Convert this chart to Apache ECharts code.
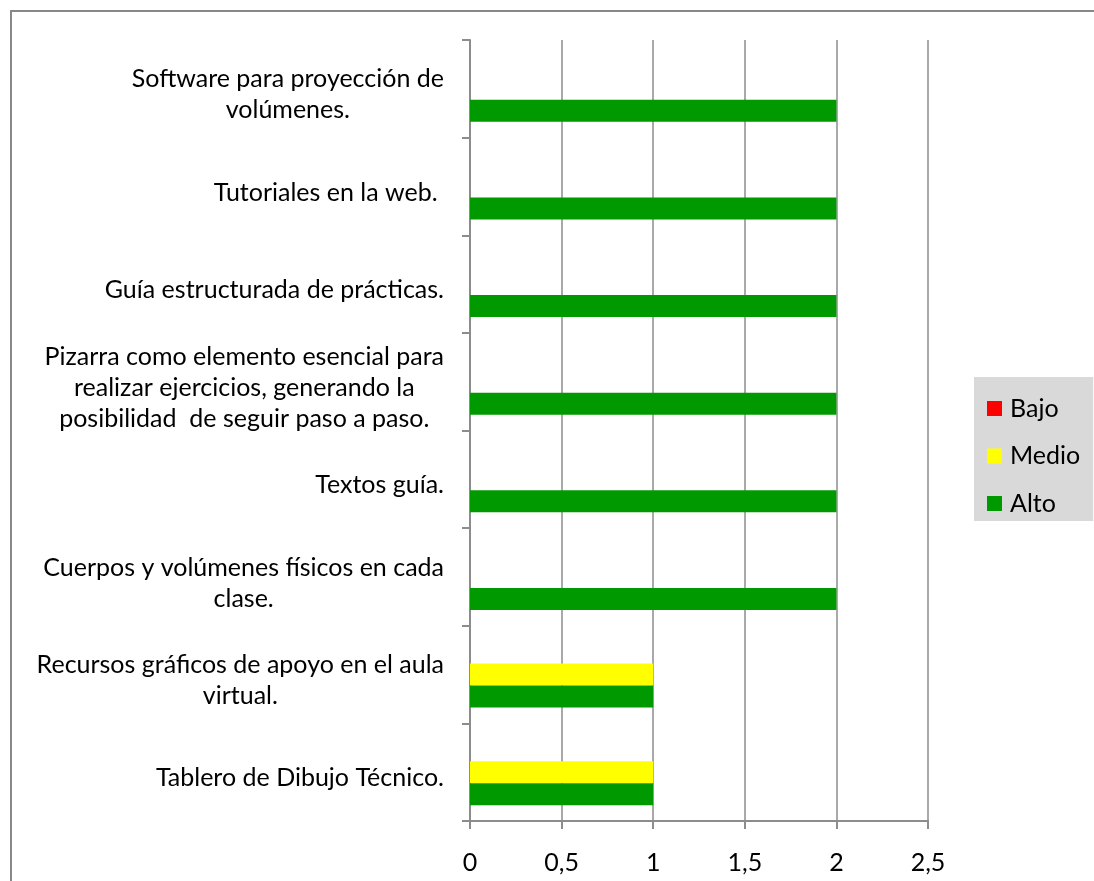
<!DOCTYPE html>
<html>
<head>
<meta charset="utf-8">
<script src="https://cdn.jsdelivr.net/npm/echarts@6/dist/echarts.min.js"></script>
<style>
  html, body { margin: 0; padding: 0; background: #fff; }
  #chart { width: 1094px; height: 881px; }
</style>
</head>
<body>
<div id="chart"></div>
<script>
// Recursos didácticos, listed from the bottom of the axis upward
const categories = [
  'Tablero de Dibujo Técnico.',
  'Recursos gráficos de apoyo en el aula\nvirtual.',
  'Cuerpos y volúmenes físicos en cada\nclase.',
  'Textos guía.',
  'Pizarra como elemento esencial para\nrealizar ejercicios, generando la\nposibilidad  de seguir paso a paso.',
  'Guía estructurada de prácticas.',
  'Tutoriales en la web. ',
  'Software para proyección de\nvolúmenes.'
];
const seriesNames = ['Bajo', 'Medio', 'Alto'];
const bajo  = [0, 0, 0, 0, 0, 0, 0, 0];
const medio = [1, 1, 0, 0, 0, 0, 0, 0];
const alto  = [1, 1, 2, 2, 2, 2, 2, 2];
const xTickValues = [0, 0.5, 1, 1.5, 2, 2.5];
const xTickLabels = ['0', '0,5', '1', '1,5', '2', '2,5'];

const FONT = 'Lato';
const FS = 25;
const GRAY = '#8c8c8c';

const chart = echarts.init(document.getElementById('chart'), null, { renderer: 'canvas' });

chart.setOption({
  animation: false,
  backgroundColor: '#ffffff',
  textStyle: { fontFamily: FONT, color: '#000' },
  graphic: [{
    type: 'rect',
    z: -10,
    shape: { x: 11, y: 11, width: 1200, height: 1000 },
    style: { fill: 'none', stroke: '#888888', lineWidth: 2 }
  }],
  grid: { left: 470, top: 40, right: 166, bottom: 60, containLabel: false },
  legend: {
    orient: 'vertical',
    left: 974,
    top: 377,
    backgroundColor: '#d9d9d9',
    padding: [19, 13, 5, 13],
    itemWidth: 15,
    itemHeight: 15,
    itemGap: 22.5,
    icon: 'rect',
    data: seriesNames,
    textStyle: { fontFamily: FONT, fontSize: FS, color: '#000', padding: [12, 0, 0, 3] }
  },
  xAxis: {
    type: 'value',
    min: 0,
    max: 2.5,
    interval: 0.5,
    axisLine: { show: true, lineStyle: { color: GRAY, width: 2 } },
    axisTick: { show: true, length: 8, lineStyle: { color: GRAY, width: 2 } },
    splitLine: { show: true, lineStyle: { color: GRAY, width: 1.5 } },
    axisLabel: {
      margin: 29,
      fontFamily: FONT,
      fontSize: FS,
      color: '#000',
      formatter: v => {
        const i = xTickValues.findIndex(t => Math.abs(t - v) < 1e-9);
        return i >= 0 ? xTickLabels[i] : '';
      }
    }
  },
  yAxis: {
    type: 'category',
    data: categories,
    axisLine: { show: true, lineStyle: { color: GRAY, width: 2 } },
    axisTick: { show: true, length: 8, lineStyle: { color: GRAY, width: 2 } },
    splitLine: { show: false },
    axisLabel: {
      margin: 26,
      align: 'right',
      padding: [12, 0, 0, 0],
      formatter: v => v.split('\n').map(l => '{c|' + l + '}').join('\n'),
      rich: {
        c: { align: 'center', fontFamily: FONT, fontSize: FS, color: '#000', lineHeight: 31 }
      }
    }
  },
  series: [
    { name: 'Bajo',  type: 'bar', data: bajo,  itemStyle: { color: '#ff0000' }, barWidth: 22, barGap: '0%' },
    { name: 'Medio', type: 'bar', data: medio, itemStyle: { color: '#ffff00' }, barWidth: 22, barGap: '0%' },
    { name: 'Alto',  type: 'bar', data: alto,  itemStyle: { color: '#009900' }, barWidth: 22, barGap: '0%' }
  ]
});
</script>
</body>
</html>
